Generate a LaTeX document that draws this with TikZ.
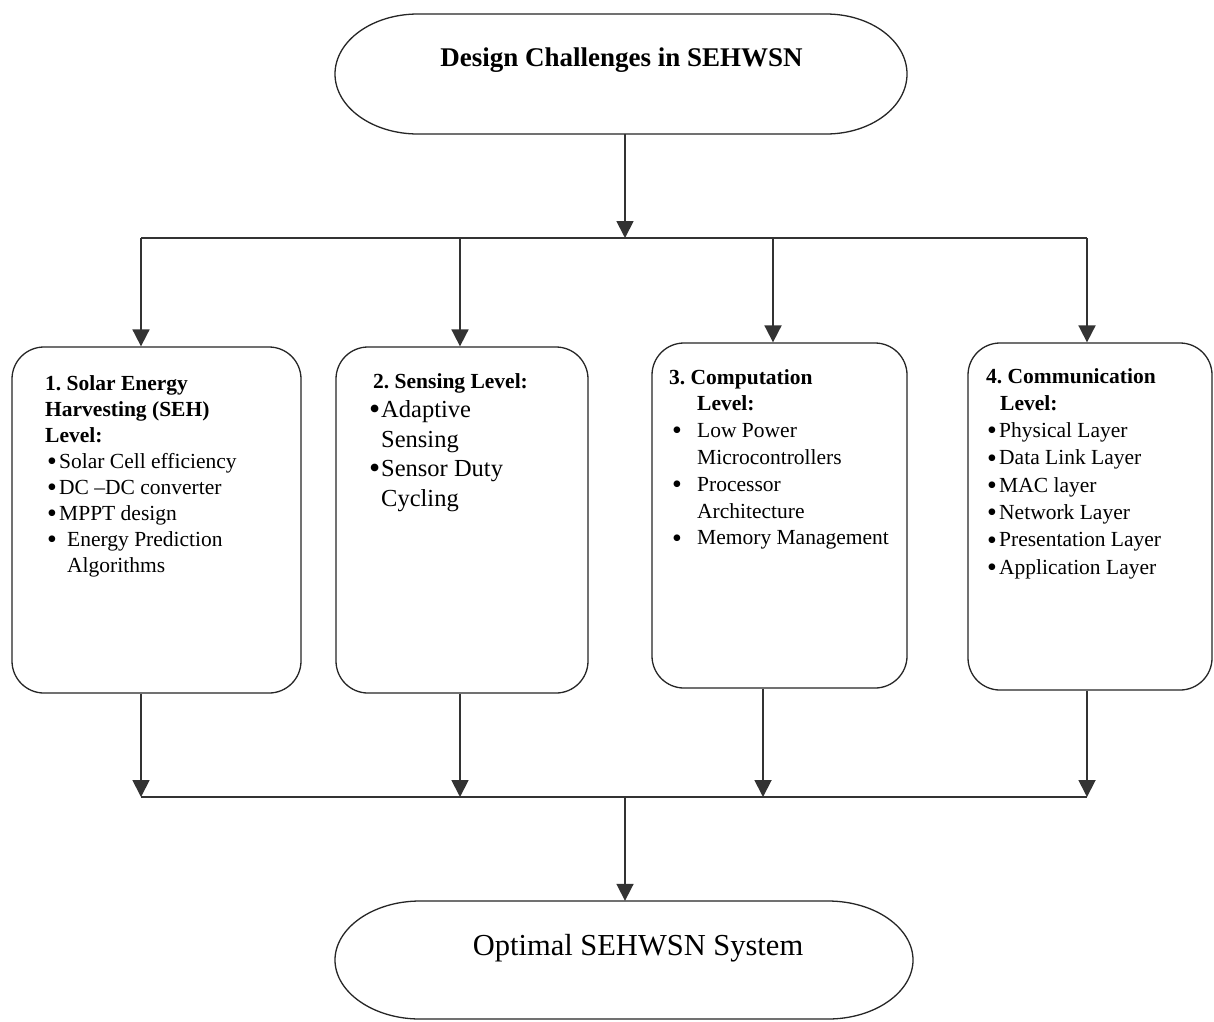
\documentclass[tikz,border=0pt]{standalone}
\usepackage{graphicx}
\usepackage{fontspec}
\setmainfont{Liberation Serif}
\usetikzlibrary{arrows.meta,calc}
\frenchspacing

% one bullet line: #1 bullet offset, #2 gap from bullet to text, #3 text
\newcommand\bigbullet{\raisebox{-2.2pt}{\scalebox{1.3}{\textbullet}}}
\newcommand\bulitem[3]{\hbox{\hspace*{#1}\makebox[#2][l]{\bigbullet}#3}}
\newcommand\contline[2]{\hbox{\hspace*{#1}#2}}

\begin{document}
\begin{tikzpicture}[x=1pt,y=-1pt,
  outline/.style={draw=black!85,line width=1.3pt},
  level/.style={outline,rounded corners=32pt,fill=white},
  ghost/.style={inner sep=0pt,draw=none},
  wire/.style={draw=black!80,line width=1.8pt},
  arr/.style={wire,-{Triangle[width=17pt,length=17pt]}},
  txt/.style={anchor=base west,inner sep=0pt},
]
\useasboundingbox[fill=white] (0,0) rectangle (1214,1021);

% terminals
\node[ghost,minimum width=572pt,minimum height=120pt] (top) at (621,74) {};
\draw[outline] (418,14) -- (826,14)
  .. controls (871,14) and (907,41) .. (907,74)
  .. controls (907,107) and (871,134) .. (826,134)
  -- (418,134)
  .. controls (372,134) and (335,107) .. (335,74)
  .. controls (335,41) and (372,14) .. (418,14) -- cycle;
\node[anchor=base,inner sep=0pt,font=\fontsize{27}{32}\selectfont\bfseries] (toptext) at (621.5,66) {Design Challenges in SEHWSN};

\node[ghost,minimum width=578pt,minimum height=118pt] (bot) at (624,960) {};
\draw[outline] (420,901) -- (828,901)
  .. controls (875,901) and (913,928) .. (913,960)
  .. controls (913,992) and (875,1019) .. (828,1019)
  -- (420,1019)
  .. controls (373,1019) and (335,992) .. (335,960)
  .. controls (335,928) and (373,901) .. (420,901) -- cycle;
\node[anchor=base,inner sep=0pt,font=\fontsize{30.5}{36}\selectfont] (bottext) at (638,955) {Optimal SEHWSN System};

% level boxes
\node[level,minimum width=289pt,minimum height=346pt] (b1) at (156.5,520) {};
\node[level,minimum width=252pt,minimum height=346pt] (b2) at (462,520) {};
\node[level,minimum width=255pt,minimum height=345pt] (b3) at (779.5,515.5) {};
\node[level,minimum width=244pt,minimum height=347pt] (b4) at (1090,516.5) {};

\node[txt] (t1) at (45,390) {\vtop{\fontsize{21.5}{26}\selectfont
  \hbox{\bfseries 1. Solar Energy}
  \hbox{\bfseries Harvesting (SEH)}
  \hbox{\bfseries Level:}
  \bulitem{2pt}{12pt}{Solar Cell efficiency}
  \bulitem{2pt}{12pt}{DC --DC converter}
  \bulitem{2pt}{12pt}{MPPT design}
  \bulitem{2pt}{20pt}{Energy Prediction}
  \contline{22pt}{Algorithms}}};

\node[txt] (t2) at (369,388) {\vtop{\fontsize{21.5}{29.5}\selectfont
  \hbox{\hspace*{4pt}\bfseries 2. Sensing Level:}
  \fontsize{24.5}{29.5}\selectfont
  \bulitem{0pt}{12pt}{Adaptive}
  \contline{12pt}{Sensing}
  \bulitem{0pt}{12pt}{Sensor Duty}
  \contline{12pt}{Cycling}}};

\node[txt] (t3) at (669,384) {\vtop{\fontsize{21.5}{26.8}\selectfont
  \hbox{\bfseries 3. Computation}
  \hbox{\hspace*{28pt}\bfseries Level:}
  \bulitem{3pt}{25pt}{Low Power}
  \contline{28pt}{Microcontrollers}
  \bulitem{3pt}{25pt}{Processor}
  \contline{28pt}{Architecture}
  \bulitem{3pt}{25pt}{Memory Management}}};

\node[txt] (t4) at (986,383) {\vtop{\fontsize{21.5}{27.3}\selectfont
  \hbox{\bfseries 4. Communication}
  \hbox{\hspace*{14pt}\bfseries Level:}
  \bulitem{1pt}{12pt}{Physical Layer}
  \bulitem{1pt}{12pt}{Data Link Layer}
  \bulitem{1pt}{12pt}{MAC layer}
  \bulitem{1pt}{12pt}{Network Layer}
  \bulitem{1pt}{12pt}{Presentation Layer}
  \bulitem{1pt}{12pt}{Application Layer}}};

% split points
\coordinate (tsplit) at (625,238);
\coordinate (L1) at (141,238);
\coordinate (L2) at (460,238);
\coordinate (L3) at (773,238);
\coordinate (L4) at (1087,238);
\coordinate (msplit) at (625,797);
\coordinate (M1) at (141,797);
\coordinate (M2) at (460,797);
\coordinate (M3) at (763,797);
\coordinate (M4) at (1087,797);

% fan-out
\draw[arr] (top.south -| tsplit) -- (tsplit);
\draw[wire] (L1) -- (L4);
\draw[arr] (L1) -- (L1 |- b1.north);
\draw[arr] (L2) -- (L2 |- b2.north);
\draw[arr] (L3) -- (L3 |- b3.north);
\draw[arr] (L4) -- (L4 |- b4.north);

% fan-in
\draw[arr] (b1.south -| M1) -- (M1);
\draw[arr] (b2.south -| M2) -- (M2);
\draw[arr] (b3.south -| M3) -- (M3);
\draw[arr] (b4.south -| M4) -- (M4);
\draw[wire] (M1) -- (M4);
\draw[arr] (msplit) -- (msplit |- bot.north);
\end{tikzpicture}
\end{document}
